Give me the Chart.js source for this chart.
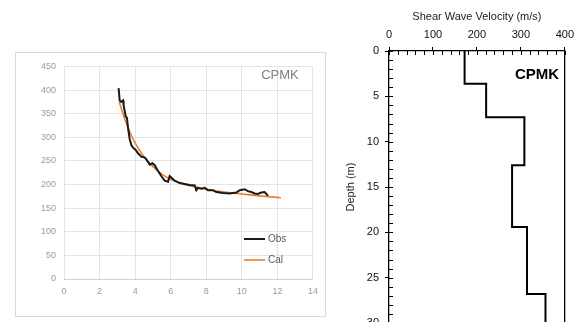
<!DOCTYPE html>
<html>
<head>
<meta charset="utf-8">
<script src="https://cdn.jsdelivr.net/npm/chart.js@4.4.1/dist/chart.umd.min.js"></script>
<style>
  html, body { margin: 0; padding: 0; width: 579px; height: 322px; overflow: hidden; background: #fff; }
  #boxLeft { position: absolute; left: 15px; top: 52px; width: 309px; height: 263px; border: 1px solid #d9d9d9; }
  #chartLeft { position: absolute; left: 0; top: 0; }
  #chartRight { position: absolute; left: 340px; top: 0; }
</style>
</head>
<body>
<div id="boxLeft"><canvas id="chartLeft" width="309" height="263"></canvas></div>
<canvas id="chartRight" width="239" height="340"></canvas>
<script>
// Left chart: observed vs calculated curve
const obsX = [3.07, 3.13, 3.22, 3.32, 3.35, 3.47, 3.54, 3.60, 3.69, 3.79, 3.88, 4.03, 4.16, 4.35, 4.54, 4.63, 4.82, 4.97, 5.10, 5.28,
              5.47, 5.66, 5.85, 5.94, 6.03, 6.22, 6.50, 6.78, 7.07, 7.35, 7.44, 7.53, 7.72, 7.91, 8.10, 8.38, 8.56, 8.94, 9.31, 9.50,
              9.69, 9.88, 10.16, 10.34, 10.53, 10.72, 10.91, 11.09, 11.28, 11.38, 11.47];
const obsY = [404, 378, 375, 378, 368, 344, 341, 320, 297, 283, 278, 273, 266, 259, 257, 253, 242, 245, 241, 229,
              218, 208, 206, 218, 215, 208, 203, 201, 199, 198, 188, 193, 191, 193, 188, 188, 184, 182, 181, 182,
              183, 188, 190, 186, 184, 181, 180, 183, 184, 180, 176];
const calX = [3.1, 3.3, 3.5, 3.75, 4, 4.25, 4.5, 5, 5.5, 6, 6.5, 7, 7.5, 8, 9, 10, 11, 12.2];
const calY = [375, 352, 330, 307, 288, 272, 259, 238, 222, 211, 204, 198, 194, 190, 184, 180, 176, 172];
const leftXTicks = [0, 14, 2];   // min, max, step
const leftYTicks = [0, 450, 50];

// Right chart: shear wave velocity profile
const layerTop = [0, 3.6, 7.3, 12.6, 19.4, 26.8];
const layerBottom = [3.6, 7.3, 12.6, 19.4, 26.8, 32];
const layerVs = [172, 221, 308, 280, 314, 356];
const vsTicks = [0, 400, 100, 20];    // min, max, major, minor
const depthTicks = [0, 30, 5, 1];

const siteName = 'CPMK';

// draws free text labels and a simple legend
const textos = {
  id: 'textos',
  afterDraw(chart, args, opts) {
    const ctx = chart.ctx;
    ctx.save();
    (opts.items || []).forEach(t => {
      ctx.font = t.font;
      ctx.fillStyle = t.color;
      ctx.textAlign = t.align || 'left';
      ctx.textBaseline = 'middle';
      ctx.fillText(t.text, t.x, t.y);
    });
    if (opts.legend) {
      const L = opts.legend;
      chart.data.datasets.forEach((ds, i) => {
        const y = L.y + i * L.gap;
        ctx.strokeStyle = ds.borderColor;
        ctx.lineWidth = ds.borderWidth;
        ctx.beginPath();
        ctx.moveTo(L.x, y);
        ctx.lineTo(L.x + L.len, y);
        ctx.stroke();
        ctx.font = L.font;
        ctx.fillStyle = L.color;
        ctx.textAlign = 'left';
        ctx.textBaseline = 'middle';
        ctx.fillText(ds.label, L.x + L.len + 3, y);
      });
    }
    ctx.restore();
  }
};

// small ticks pointing inside the plot
const ticksInternos = {
  id: 'ticksInternos',
  afterDraw(chart) {
    const { ctx, chartArea, scales } = chart;
    ctx.save();
    ctx.strokeStyle = '#000';
    ctx.lineWidth = 1;
    ctx.beginPath();
    for (let v = vsTicks[0]; v <= vsTicks[1]; v += vsTicks[3]) {
      const px = Math.round(scales.x.getPixelForValue(v)) + 0.5;
      ctx.moveTo(px, chartArea.top);
      ctx.lineTo(px, chartArea.top + 4);
    }
    for (let d = depthTicks[0]; d <= depthTicks[1]; d += depthTicks[3]) {
      const py = Math.round(scales.y.getPixelForValue(d)) + 0.5;
      ctx.moveTo(chartArea.left, py);
      ctx.lineTo(chartArea.left + 4, py);
    }
    ctx.stroke();
    ctx.restore();
  }
};

document.addEventListener("DOMContentLoaded", function () {
  Chart.defaults.font.family = "'Liberation Sans', Arial, sans-serif";

  const obsData = obsX.map((x, i) => ({ x: x, y: obsY[i] }));
  const calData = calX.map((x, i) => ({ x: x, y: calY[i] }));

  new Chart(document.getElementById('chartLeft'), {
    type: 'scatter',
    data: {
      datasets: [
        { label: 'Obs', data: obsData, showLine: true, borderColor: '#1a1a1a', borderWidth: 2, pointRadius: 0, tension: 0 },
        { label: 'Cal', data: calData, showLine: true, borderColor: '#ed7d31', borderWidth: 1.6, pointRadius: 0, cubicInterpolationMode: 'monotone' }
      ]
    },
    options: {
      responsive: false,
      animation: false,
      devicePixelRatio: 1,
      layout: { padding: { top: 5, right: 12, left: 0, bottom: 0 } },
      plugins: {
        legend: { display: false },
        tooltip: { enabled: false },
        textos: {
          items: [{ text: siteName, x: 264, y: 22, font: '13px "Liberation Sans", sans-serif', color: '#808080', align: 'center' }],
          legend: { x: 228, y: 186, gap: 21, len: 21, font: '10px "Liberation Sans", sans-serif', color: '#595959' }
        }
      },
      scales: {
        x: {
          type: 'linear', min: leftXTicks[0], max: leftXTicks[1],
          ticks: { stepSize: leftXTicks[2], color: '#9a9a9a', font: { size: 9 }, padding: 7 },
          grid: { color: '#e4e4e4', drawTicks: false },
          border: { color: '#d0d0d0' },
          afterFit: s => { s.height = 37; }
        },
        y: {
          min: leftYTicks[0], max: leftYTicks[1],
          ticks: { stepSize: leftYTicks[2], color: '#9a9a9a', font: { size: 9 }, padding: 8 },
          grid: { color: '#e4e4e4', drawTicks: false },
          border: { display: false },
          afterFit: s => { s.width = 48; }
        }
      }
    },
    plugins: [textos]
  });

  // step profile built from the layer arrays
  const profile = [];
  layerVs.forEach((v, i) => {
    profile.push({ x: v, y: layerTop[i] });
    profile.push({ x: v, y: layerBottom[i] });
  });

  const axisGrid = { drawOnChartArea: false, drawTicks: true, tickLength: 4, color: '#000', lineWidth: 1 };

  new Chart(document.getElementById('chartRight'), {
    type: 'scatter',
    data: {
      datasets: [{ label: 'Vs', data: profile, showLine: true, borderColor: '#000', borderWidth: 2, pointRadius: 0 }]
    },
    options: {
      responsive: false,
      animation: false,
      devicePixelRatio: 1,
      layout: { padding: { top: 0, right: 12, left: 0, bottom: 17 } },
      plugins: {
        legend: { display: false },
        tooltip: { enabled: false },
        textos: {
          items: [{ text: siteName, x: 197, y: 75, font: 'bold 15px "Liberation Sans", sans-serif', color: '#000', align: 'center' }]
        }
      },
      scales: {
        x: {
          type: 'linear', position: 'top', min: vsTicks[0], max: vsTicks[1],
          ticks: { stepSize: vsTicks[2], color: '#111', font: { size: 11 }, padding: 5 },
          grid: axisGrid,
          border: { color: '#000', width: 1.3 },
          title: { display: true, text: 'Shear Wave Velocity (m/s)', color: '#222', font: { size: 11 }, padding: { top: 10, bottom: 2 } },
          afterFit: s => { s.height = 51; }
        },
        y: {
          type: 'linear', position: 'left', reverse: true, min: depthTicks[0], max: depthTicks[1],
          ticks: { stepSize: depthTicks[2], color: '#111', font: { size: 11 }, padding: 6 },
          grid: axisGrid,
          border: { color: '#000', width: 1.3 },
          title: { display: true, text: 'Depth (m)', color: '#222', font: { size: 11 }, padding: { top: 4, bottom: 2 } },
          afterFit: s => { s.width = 49; }
        },
        y2: {
          type: 'linear', position: 'right', reverse: true, min: depthTicks[0], max: depthTicks[1],
          ticks: { display: false },
          grid: { drawOnChartArea: false, drawTicks: false },
          border: { color: '#000', width: 1.3 },
          afterFit: s => { s.width = 0; }
        }
      }
    },
    plugins: [textos, ticksInternos]
  });
});
</script>
</body>
</html>
